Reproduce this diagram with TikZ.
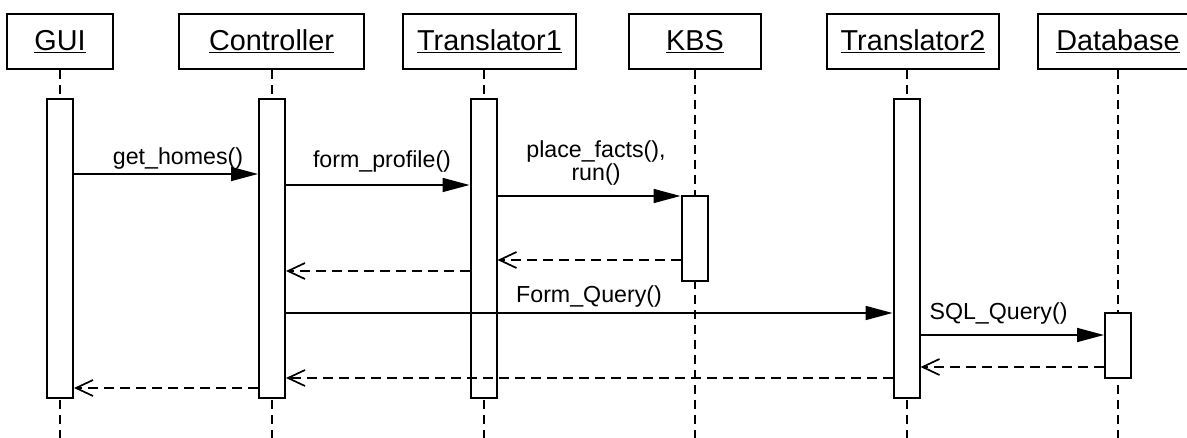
\documentclass[tikz,border=0pt]{standalone}
\usepackage{fontspec}
\setmainfont{Liberation Sans}
\usetikzlibrary{arrows.meta}
\pgfdeclarelayer{bg}
\pgfsetlayers{bg,main}
\begin{document}
\begin{tikzpicture}[x=1pt,y=-1pt,
  head/.style={draw,line width=2pt,minimum height=55pt,inner sep=0pt,font=\fontsize{28.8}{34}\selectfont},
  act/.style={draw,fill=white,line width=2pt,minimum width=26pt,inner sep=0pt},
  life/.style={line width=2pt,dash pattern=on 9pt off 6pt},
  msg/.style={line width=1.7pt,-{Triangle[length=27pt,width=14pt]}},
  ret/.style={line width=1.7pt,dash pattern=on 10pt off 6pt,-{Straight Barb[length=17pt,width=16pt,line width=1.7pt]}},
  lbl/.style={anchor=base,inner sep=0pt,font=\fontsize{23.2}{23}\selectfont,align=center}]
\useasboundingbox (0,0) rectangle (1187,438);
\coordinate (bot) at (0,438);
% header boxes
\node[head,minimum width=106pt] (gui) at (60,41.5) {\underline{GUI}};
\node[head,minimum width=185pt] (ctrl) at (271.5,41.5) {\underline{Controller}};
\node[head,minimum width=173pt] (t1) at (489.5,41.5) {\underline{Translator1}};
\node[head,minimum width=132pt] (kbs) at (695,41.5) {\underline{KBS}};
\node[head,minimum width=172pt] (t2) at (913,41.5) {\underline{Translator2}};
\node[head,minimum width=160pt] (db) at (1118,41.5) {\underline{Database}};
% activation boxes
\node[act,minimum height=299pt] (guiA) at (60,248.5) {};
\node[act,minimum height=299pt] (ctrlA) at (272,248.5) {};
\node[act,minimum height=299pt] (t1A) at (483.5,248.5) {};
\node[act,minimum height=85pt] (kbsA) at (694.5,238.5) {};
\node[act,minimum height=299pt] (t2A) at (906.5,248.5) {};
\node[act,minimum height=65pt] (dbA) at (1118,345.5) {};
% lifelines
\begin{pgfonlayer}{bg}
\draw[life] (gui.south -| guiA) -- (guiA |- bot);
\draw[life] (ctrl.south -| ctrlA) -- (ctrlA |- bot);
\draw[life] (t1.south -| t1A) -- (t1A |- bot);
\draw[life] (kbs.south -| kbsA) -- (kbsA |- bot);
\draw[life] (t2.south -| t2A) -- (t2A |- bot);
\draw[life] (db.south -| dbA) -- (dbA |- bot);
\end{pgfonlayer}
% messages
\draw[msg] (guiA.east |- 0,174) -- (ctrlA.west |- 0,174);
\node[lbl] (l1) at (178,165) {get\_homes()};
\draw[msg] (ctrlA.east |- 0,185) -- (t1A.west |- 0,185);
\node[lbl] (l2) at (382,168) {form\_profile()};
\draw[msg] (t1A.east |- 0,196) -- (kbsA.west |- 0,196);
\node[lbl,anchor=south] (l3) at (596,186) {place\_facts(),\\run()};
\draw[ret] (kbsA.west |- 0,260) -- (t1A.east |- 0,260);
\draw[ret] (t1A.west |- 0,271) -- (ctrlA.east |- 0,271);
\draw[msg] (ctrlA.east |- 0,313) -- (t2A.west |- 0,313);
\node[lbl] (l4) at (589,303) {Form\_Query()};
\draw[msg] (t2A.east |- 0,335) -- (dbA.west |- 0,335);
\node[lbl] (l5) at (998.5,320) {SQL\_Query()};
\draw[ret] (dbA.west |- 0,367) -- (t2A.east |- 0,367);
\draw[ret] (t2A.west |- 0,378) -- (ctrlA.east |- 0,378);
\draw[ret] (ctrlA.west |- 0,388) -- (guiA.east |- 0,388);
\end{tikzpicture}
\end{document}
